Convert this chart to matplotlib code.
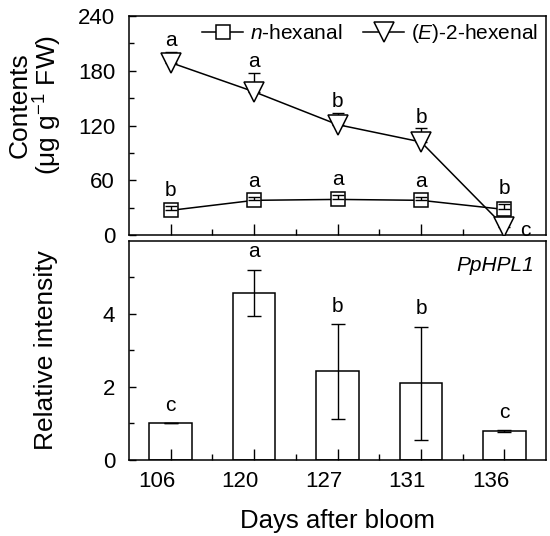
import matplotlib
matplotlib.use("Agg")
import matplotlib.pyplot as plt
import matplotlib.transforms as mtransforms
from matplotlib.ticker import MultipleLocator, FixedLocator

plt.rcParams['font.family'] = ['Liberation Sans', 'DejaVu Sans']
plt.rcParams['mathtext.fontset'] = 'custom'
plt.rcParams['mathtext.rm'] = 'Liberation Sans'
plt.rcParams['mathtext.it'] = 'Liberation Sans:italic'

# data
days = ['106', '120', '127', '131', '136']

hexanal = [27, 38, 39, 38, 28]
hexanal_err = [5, 4, 5, 4, 6]
hexanal_letters = ['b', 'a', 'a', 'a', 'b']

hexenal = [189, 157, 121, 102, 9]
hexenal_err = [12, 21, 13, 15, 3]
hexenal_letters = ['a', 'a', 'b', 'b', 'c']

intensity = [1.0, 4.58, 2.43, 2.1, 0.8]
intensity_err = [0.0, 0.63, 1.3, 1.55, 0.02]
intensity_letters = ['c', 'a', 'b', 'b', 'c']

x = list(range(len(days)))

fig = plt.figure(figsize=(5.5, 5.36), dpi=100)
ax1 = fig.add_axes([0.2345, 0.5616, 0.7585, 0.4084])
ax2 = fig.add_axes([0.2345, 0.1418, 0.7585, 0.4086])

for ax in (ax1, ax2):
    for s in ax.spines.values():
        s.set_linewidth(1.1)
    ax.set_xlim(-0.5, 4.5)
    ax.xaxis.set_major_locator(FixedLocator(x))
    ax.xaxis.set_minor_locator(FixedLocator([i + 0.5 for i in x[:-1]]))
    ax.tick_params(axis='x', which='major', direction='in', length=8, width=1.0)
    ax.tick_params(axis='x', which='minor', direction='in', length=4.5, width=1.0)
    ax.tick_params(axis='y', which='major', direction='in', length=5, width=1.0,
                   labelsize=16, pad=10)
    ax.tick_params(axis='y', which='minor', direction='in', length=3.5, width=1.0)

# top panel: volatile contents
ax1.errorbar(x, hexanal, yerr=[[0] * 5, hexanal_err], fmt='none', ecolor='black',
             elinewidth=1.0, capsize=4, capthick=1.0, zorder=2)
ax1.plot(x, hexanal, '-', color='black', lw=1.1, marker='s', ms=10.5,
         mfc='white', mec='black', mew=1.1, label=r'$\it{n}$-hexanal', zorder=3)
ax1.errorbar(x, hexenal, yerr=[[0] * 5, hexenal_err], fmt='none', ecolor='black',
             elinewidth=1.0, capsize=4, capthick=1.0, zorder=2)
ax1.plot(x, hexenal, '-', color='black', lw=1.1, marker='v', ms=15,
         mfc='white', mec='black', mew=1.1, label=r'($\it{E}$)-2-hexenal', zorder=4)
# hexanal error bars sit inside their white squares
ax1.errorbar(x, hexanal, yerr=[[0] * 5, hexanal_err], fmt='none', ecolor='black',
             elinewidth=1.0, capsize=4, capthick=1.0, zorder=5)

for i in x:
    ax1.annotate(hexanal_letters[i], (i, hexanal[i] + hexanal_err[i]),
                 xytext=(0, 4), textcoords='offset points', ha='center', va='bottom',
                 fontsize=15)
    if i < 4:
        ax1.annotate(hexenal_letters[i], (i, hexenal[i] + hexenal_err[i]),
                     xytext=(0, 1), textcoords='offset points', ha='center', va='bottom',
                     fontsize=15)
    else:
        ax1.annotate(hexenal_letters[i], (i, hexenal[i]),
                     xytext=(11, -3), textcoords='offset points', ha='left', va='center',
                     fontsize=15, annotation_clip=False)

ax1.set_ylim(0, 240)
ax1.yaxis.set_major_locator(MultipleLocator(60))
ax1.yaxis.set_minor_locator(MultipleLocator(30))
ax1.tick_params(axis='x', labelbottom=False)
ax1.set_ylabel('Contents\n' + r'(μg g$^{-1}$ FW)', fontsize=19, linespacing=1.0)
ax1.yaxis.set_label_coords(-0.155, 0.595)
ax1.legend(loc='upper right', ncol=2, frameon=False, fontsize=15, handlelength=2.0,
           handletextpad=0.3, columnspacing=1.0, borderaxespad=0.0,
           bbox_to_anchor=(1.0, 1.01))

# bottom panel: PpHPL1 relative expression
ax2.bar(x, intensity, width=0.51, color='white', edgecolor='black', linewidth=1.1, zorder=1)
ax2.errorbar(x, intensity, yerr=intensity_err, fmt='none', ecolor='black',
             elinewidth=1.0, capsize=5, capthick=1.0, zorder=3)
for i in x:
    ax2.annotate(intensity_letters[i], (i, intensity[i] + intensity_err[i]),
                 xytext=(0, 6), textcoords='offset points', ha='center', va='bottom',
                 fontsize=15)
ax2.text(0.97, 0.93, 'PpHPL1', transform=ax2.transAxes, ha='right', va='top',
         fontsize=15, style='italic')

ax2.set_ylim(0, 6)
ax2.yaxis.set_major_locator(FixedLocator([0, 2, 4]))
ax2.yaxis.set_minor_locator(FixedLocator([1, 3, 5]))
ax2.set_xticklabels(days)
ax2.tick_params(axis='x', labelsize=16, pad=8)
offset = mtransforms.ScaledTranslation(-0.14, 0, fig.dpi_scale_trans)
for lab in ax2.get_xticklabels():
    lab.set_transform(lab.get_transform() + offset)
ax2.set_ylabel('Relative intensity', fontsize=19)
ax2.yaxis.set_label_coords(-0.17, 0.5)
ax2.set_xlabel('Days after bloom', fontsize=18.5, labelpad=12)

fig.savefig('out.png', dpi=100)
